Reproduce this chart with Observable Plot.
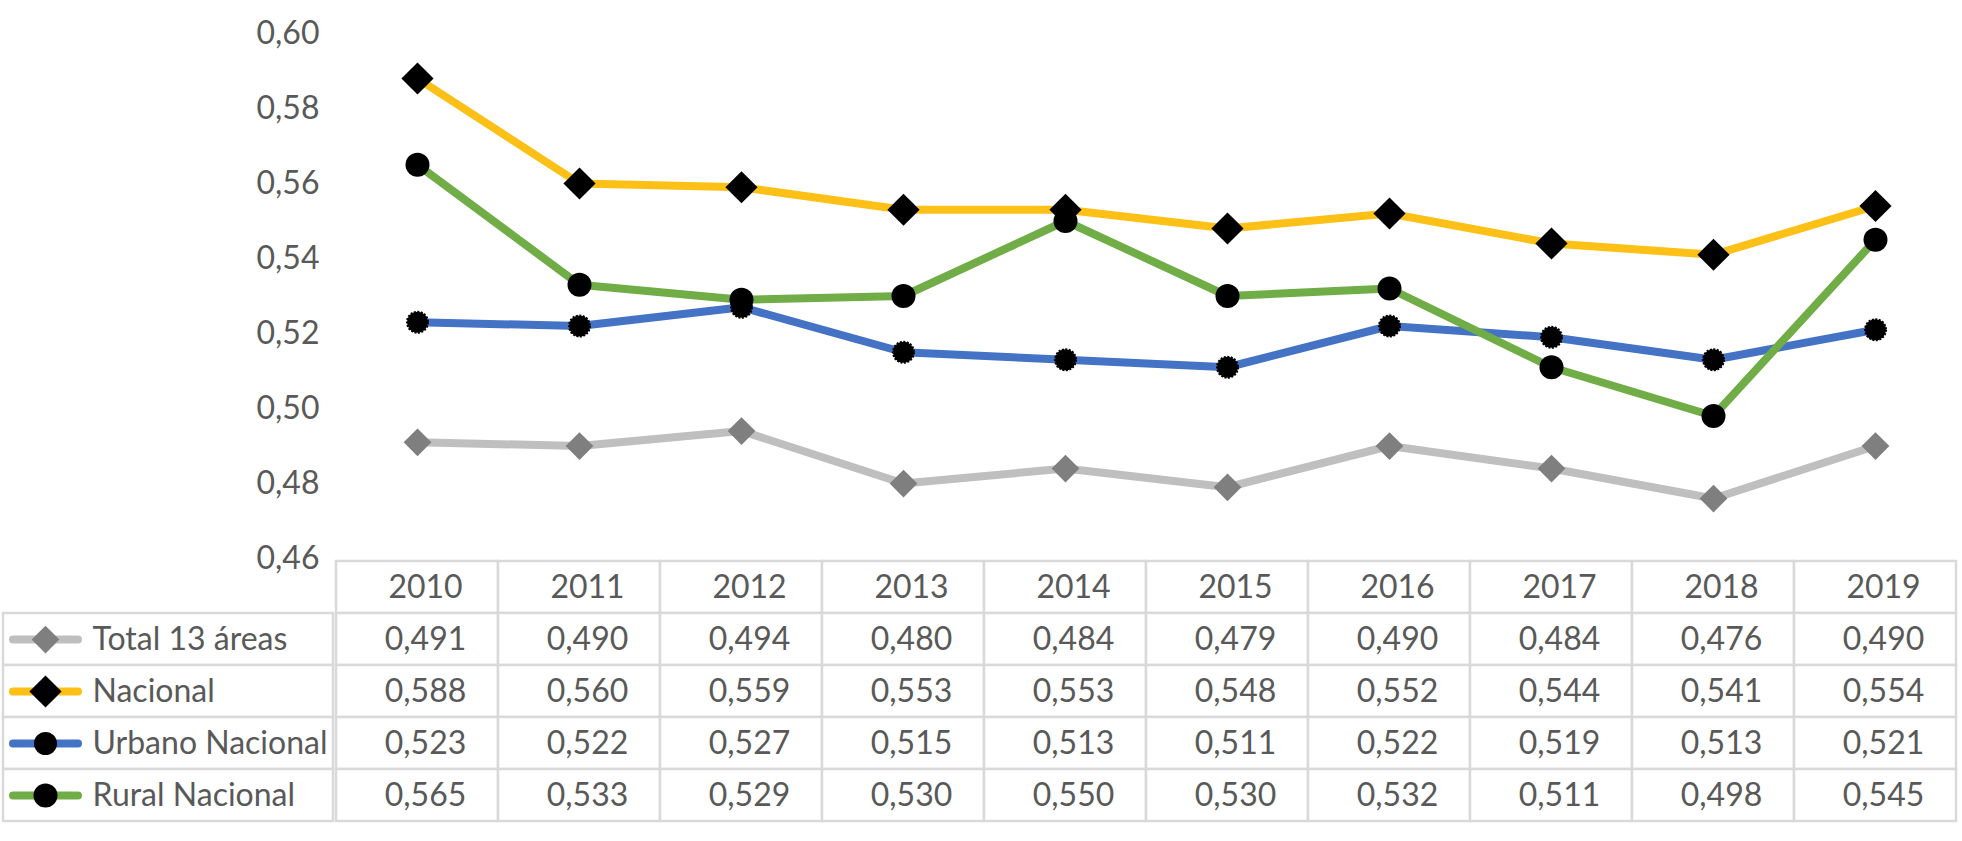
<!DOCTYPE html>
<html><head><meta charset="utf-8">
<script src="https://cdn.jsdelivr.net/npm/d3@7"></script>
<script src="https://cdn.jsdelivr.net/npm/@observablehq/plot@0.6"></script>
<style>
body{margin:0;background:#fff;}
#wrap{width:1962px;font-family:Lato,"Open Sans",sans-serif;}
#table{display:flex;}
svg{display:block;overflow:visible;}
</style></head><body><div id="wrap"><div id="chart"></div><div id="table"></div></div>
<script>
// ---- data ----
const years = [2010, 2011, 2012, 2013, 2014, 2015, 2016, 2017, 2018, 2019];
const seriesNames = ["Total 13 áreas", "Nacional", "Urbano Nacional", "Rural Nacional"];
const total13 = [0.491, 0.490, 0.494, 0.480, 0.484, 0.479, 0.490, 0.484, 0.476, 0.490];
const nacional = [0.588, 0.560, 0.559, 0.553, 0.553, 0.548, 0.552, 0.544, 0.541, 0.554];
const urbano = [0.523, 0.522, 0.527, 0.515, 0.513, 0.511, 0.522, 0.519, 0.513, 0.521];
const rural = [0.565, 0.533, 0.529, 0.530, 0.550, 0.530, 0.532, 0.511, 0.498, 0.545];
const yTicks = [0.46, 0.48, 0.50, 0.52, 0.54, 0.56, 0.58, 0.60];

// ---- styles ----
const styles = {
  "Total 13 áreas": {line: "#BFBFBF", mark: "#7F7F7F", symbol: "diamond2", r: 12.5, dash: null},
  "Nacional": {line: "#FCC016", mark: "#000000", symbol: "diamond2", r: 14.5, dash: null},
  "Urbano Nacional": {line: "#4472C4", mark: "#000000", symbol: "circle", r: 10.5, dash: "2 1.5"},
  "Rural Nacional": {line: "#70AD47", mark: "#000000", symbol: "circle", r: 12, dash: null}
};
const valuesBy = {"Total 13 áreas": total13, "Nacional": nacional, "Urbano Nacional": urbano, "Rural Nacional": rural};

const locale = d3.formatLocale({decimal: ",", thousands: ".", grouping: [3], currency: ["", ""]});
const f2 = locale.format(".2f"), f3 = locale.format(".3f");
const textColor = "#595959";
const font = 'Lato, "Open Sans", sans-serif';
const gridColor = "#D9D9D9";

const points = seriesNames.flatMap(name => years.map((year, i) => ({series: name, year, value: valuesBy[name][i]})));

// ---- chart ----
const chartMarks = [];
for (const name of seriesNames) {
  const st = styles[name];
  const pts = points.filter(d => d.series === name);
  chartMarks.push(Plot.line(pts, {x: "year", y: "value", stroke: st.line, strokeWidth: 8, strokeLinejoin: "round", strokeLinecap: "butt"}));
  chartMarks.push(Plot.dot(pts, {x: "year", y: "value", symbol: st.symbol, r: st.r, fill: st.mark, stroke: st.dash ? st.mark : "none", strokeWidth: 2, strokeDasharray: st.dash}));
}
const chart = Plot.plot({
  width: 1962, height: 559, marginTop: 33, marginBottom: 1, marginLeft: 333, marginRight: 4,
  style: {fontFamily: font, fontSize: "32px", color: textColor, background: "transparent", overflow: "visible"},
  x: {type: "band", domain: years, padding: 0, axis: null},
  y: {domain: [0.46, 0.60], label: null, axis: null},
  marks: [
    Plot.axisY({ticks: yTicks, tickFormat: f2, tickSize: 0, tickPadding: 14, fill: textColor, fontSize: 32, label: null}),
    ...chartMarks
  ]
});
document.getElementById("chart").appendChild(chart);

// ---- table ----
const rowDomain = ["header", ...seriesNames];
const legendRows = seriesNames.map(name => ({name, ...styles[name]}));

const legend = Plot.plot({
  width: 333, height: 281, marginTop: 1, marginBottom: 18, marginLeft: 3, marginRight: 0,
  style: {fontFamily: font, fontSize: "32px", color: textColor, background: "transparent", overflow: "visible"},
  x: {type: "band", domain: ["legend"], padding: 0, axis: null},
  y: {type: "band", domain: rowDomain, padding: 0, axis: null},
  marks: [
    Plot.cell(legendRows, {x: () => "legend", y: "name", fill: "white", stroke: gridColor, strokeWidth: 2.5}),
    Plot.ruleY(legendRows, {y: "name", stroke: d => d.line, strokeWidth: 8, strokeLinecap: "round", insetLeft: 10, insetRight: 255}),
    Plot.dot(legendRows, {y: "name", frameAnchor: "left", dx: 42, symbol: d => d.symbol, r: d => d.r, fill: d => d.mark, stroke: d => d.dash ? d.mark : "none", strokeWidth: 2, strokeDasharray: d => d.dash}),
    Plot.text(legendRows, {y: "name", text: "name", frameAnchor: "left", dx: 89, textAnchor: "start", fill: textColor, fontSize: 32})
  ],
  symbol: {type: "identity"},
  r: {type: "identity"}
});

const cells = [
  ...years.map(year => ({year, row: "header", label: String(year)})),
  ...points.map(d => ({year: d.year, row: d.series, label: f3(d.value)}))
];
const table = Plot.plot({
  width: 1629, height: 281, marginTop: 1, marginBottom: 18, marginLeft: 0, marginRight: 4,
  style: {fontFamily: font, fontSize: "32px", color: textColor, background: "transparent", overflow: "visible"},
  x: {type: "band", domain: years, padding: 0, axis: null},
  y: {type: "band", domain: rowDomain, padding: 0, axis: null},
  marks: [
    Plot.cell(cells, {x: "year", y: "row", fill: "white", stroke: gridColor, strokeWidth: 2.5}),
    Plot.text(cells, {x: "year", y: "row", text: "label", dx: 8, fill: textColor, fontSize: 32})
  ]
});
document.getElementById("table").appendChild(legend);
document.getElementById("table").appendChild(table);
</script></body></html>
